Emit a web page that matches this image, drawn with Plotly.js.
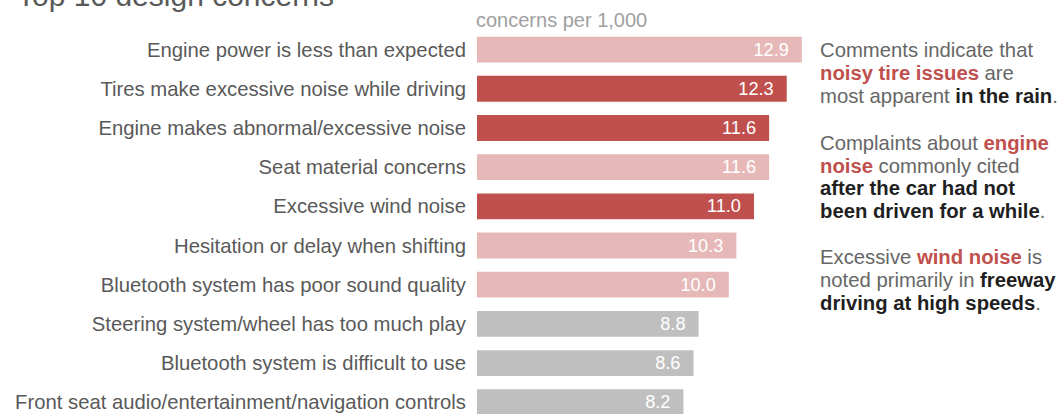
<!DOCTYPE html>
<html>
<head>
<meta charset="utf-8">
<script src="https://cdn.plot.ly/plotly-3.0.1.min.js"></script>
<style>html,body{margin:0;padding:0;background:#fff;}#chart{width:1061px;height:414px;}</style>
</head>
<body>
<div id="chart"></div>
<script>
const categories = [
  "Engine power is less than expected",
  "Tires make excessive noise while driving",
  "Engine makes abnormal/excessive noise",
  "Seat material concerns",
  "Excessive wind noise",
  "Hesitation or delay when shifting",
  "Bluetooth system has poor sound quality",
  "Steering system/wheel has too much play",
  "Bluetooth system is difficult to use",
  "Front seat audio/entertainment/navigation controls"
];
const values = [12.9, 12.3, 11.6, 11.6, 11.0, 10.3, 10.0, 8.8, 8.6, 8.2];
const groups = ["light", "dark", "dark", "light", "dark", "light", "light", "grey", "grey", "grey"];
const groupColors = {light: "#E6B9B8", dark: "#C0504D", grey: "#BFBFBF"};

const FONT = '"Liberation Sans", Arial, Helvetica, sans-serif';
const RED = "#C0504D", DARK = "#1f1f1f", GREY = "#666666";
const r = s => `<span style="color:${RED}"><b>${s}</b></span>`;
const k = s => `<span style="color:${DARK}"><b>${s}</b></span>`;

// Commentary lines (text) and their baselines in pixels
const noteLines = [
  ["Comments indicate that", 54.3],
  [`${r("noisy tire issues")} are`, 77.4],
  [`most apparent ${k("in the rain")}.`, 100.7],
  [`Complaints about ${r("engine")}`, 147.3],
  [`${r("noise")} commonly cited`, 170.3],
  [`${k("after the car had not")}`, 192.8],
  [`${k("been driven for a while")}.`, 215.5],
  [`Excessive ${r("wind noise")} is`, 261.7],
  [`noted primarily in ${k("freeway")}`, 285],
  [`${k("driving at high speeds")}.`, 308]
];

const H = 414, T = 30, PH = H - T, L = 477, PW = 554;
const py = y => (H - y) / PH;
const px = x => (x - L) / PW;
const NOTE_SIZE = 20.3;

const trace = {
  type: "bar",
  orientation: "h",
  y: categories,
  x: values,
  marker: {color: groups.map(g => groupColors[g])},
  width: 0.66,
  text: values.map(v => v.toFixed(1) + "\u00a0\u00a0"),
  textposition: "inside",
  insidetextanchor: "end",
  textfont: {color: "#ffffff", size: 19.2, family: FONT},
  hoverinfo: "skip",
  cliponaxis: false
};

const annotations = [
  {text: "Top 10 design concerns", xref: "paper", yref: "paper", x: px(15), xanchor: "left",
   y: py(14), yanchor: "bottom", showarrow: false, font: {size: 30, color: "#595959", family: FONT}},
  {text: "concerns per 1,000", xref: "paper", yref: "paper", x: px(474), xanchor: "left",
   y: py(27 - 0.35 * 20), yanchor: "middle", showarrow: false, font: {size: 20, color: "#a0a0a0", family: FONT}}
];
noteLines.forEach(([t, b]) => annotations.push({
  text: t, xref: "paper", yref: "paper", x: px(818), xanchor: "left", align: "left",
  y: py(b + 2.5 - 0.35 * NOTE_SIZE), yanchor: "middle", showarrow: false,
  font: {size: NOTE_SIZE, color: GREY, family: FONT}
}));

const layout = {
  width: 1061, height: 414,
  margin: {l: L, r: 1061 - L - PW, t: T, b: 0, pad: 0},
  paper_bgcolor: "#fff", plot_bgcolor: "#fff",
  font: {family: FONT, color: "#595959", size: 20},
  showlegend: false,
  xaxis: {range: [0, 22], showgrid: false, zeroline: false, showticklabels: false, ticks: "", showline: false, fixedrange: true},
  yaxis: {range: [9.3, -0.5], type: "category", showgrid: false, zeroline: false, showline: false,
          ticks: "", ticklabelstandoff: 10, tickfont: {size: 20.3, color: "#595959", family: FONT}, fixedrange: true},
  annotations: annotations
};

Plotly.newPlot("chart", [trace], layout, {displayModeBar: false, staticPlot: true});
</script>
</body>
</html>
